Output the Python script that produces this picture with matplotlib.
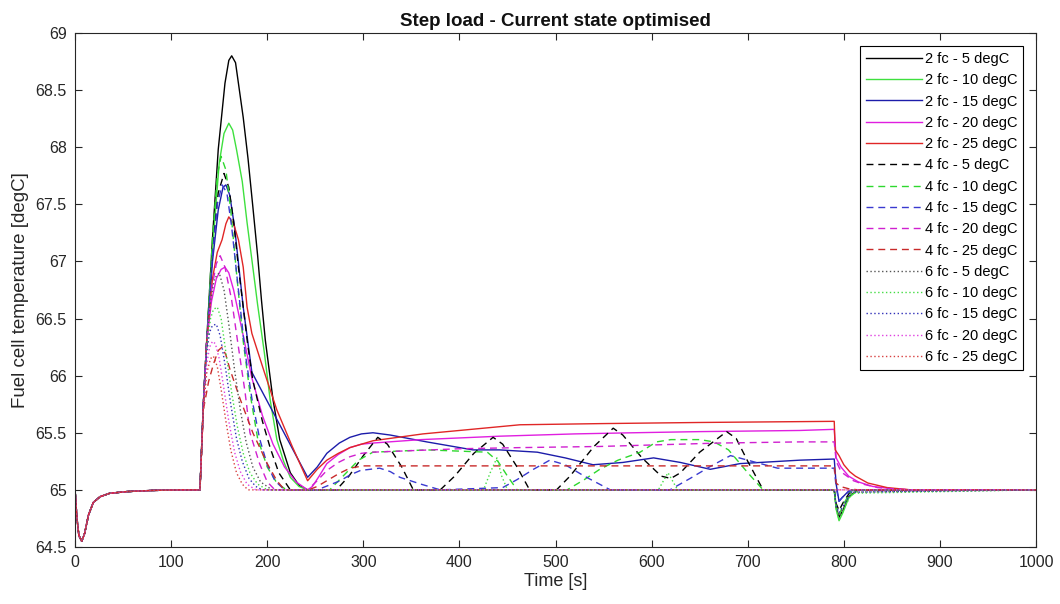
import matplotlib
matplotlib.use("Agg")
import matplotlib.pyplot as plt
from matplotlib.ticker import FuncFormatter

plt.rcParams['font.family'] = ['Liberation Sans', 'DejaVu Sans']

# shared start-up transient (all runs identical before the load step)
start_t = [0, 2, 4, 7, 10, 14, 19, 26, 36, 54, 80, 110]
start_v = [65, 64.75, 64.6, 64.55, 64.62, 64.78, 64.89, 64.94, 64.97, 64.985, 64.995, 65.0]

# 2 fuel cells
t_2fc5 = [130, 133.5, 137, 143, 149, 156, 160, 163, 167, 171, 175, 180, 185, 190, 194, 198, 206, 213, 224, 233, 242,
          790, 792, 795, 799, 805, 815, 1000]
v_2fc5 = [65, 65.75, 66.3, 67.2, 67.98, 68.56, 68.76, 68.8, 68.74, 68.5, 68.26, 67.9, 67.48, 67.05, 66.66, 66.31, 65.79,
          65.44, 65.15, 65.04, 65.0, 65.0, 64.85, 64.76, 64.82, 64.94, 65.0, 65.0]

t_2fc10 = [130, 133.5, 137, 143, 150, 155, 160, 164, 168, 174, 179, 185, 190, 197, 203, 210, 217, 224, 233, 242,
           790, 792, 795, 799, 805, 815, 1000]
v_2fc10 = [65, 65.75, 66.3, 67.1, 67.86, 68.12, 68.21, 68.15, 67.98, 67.7, 67.34, 66.95, 66.62, 66.2, 65.79, 65.44,
           65.25, 65.11, 65.03, 65.0, 65.0, 64.83, 64.73, 64.8, 64.93, 65.0, 65.0]

t_2fc15 = [130, 133.5, 137, 143, 149, 154, 157, 161, 166, 175, 184, 242, 252, 262, 275, 286, 298, 310, 328, 366, 414,
           442, 481, 510, 539, 570, 602, 630, 661, 692, 754, 790, 792, 795, 798, 805, 815, 1000]
v_2fc15 = [65, 65.75, 66.3, 67.0, 67.45, 67.65, 67.67, 67.58, 67.3, 66.6, 66.03, 65.11, 65.2, 65.32, 65.41, 65.46,
           65.49, 65.5, 65.48, 65.42, 65.35, 65.35, 65.33, 65.28, 65.22, 65.24, 65.28, 65.24, 65.18, 65.23, 65.26,
           65.27, 65.05, 64.9, 64.93, 64.99, 65.0, 65.0]

t_2fc20 = [130, 133.5, 137, 142, 147, 152, 156, 160, 165, 175, 184, 195, 206, 218, 230, 242, 247, 254, 262, 274, 286,
           298, 310, 360, 442, 520, 581, 650, 754, 790, 792, 797, 805, 815, 830, 850, 870, 1000]
v_2fc20 = [65, 65.75, 66.3, 66.65, 66.85, 66.93, 66.95, 66.9, 66.75, 66.35, 65.98, 65.65, 65.4, 65.2, 65.07, 65.0,
           65.03, 65.12, 65.23, 65.31, 65.37, 65.4, 65.41, 65.44, 65.47, 65.49, 65.5, 65.51, 65.52, 65.53, 65.28,
           65.2, 65.12, 65.07, 65.03, 65.01, 65.0, 65.0]

t_2fc25 = [130, 133.5, 137, 143, 148, 153, 157, 160, 165, 170, 175, 179, 184, 197, 210, 226, 242, 252, 262, 274, 286,
           298, 310, 362, 463, 546, 650, 790, 791, 795, 800, 806, 812, 825, 845, 870, 1000]
v_2fc25 = [65, 65.75, 66.3, 66.85, 67.08, 67.19, 67.33, 67.39, 67.33, 67.19, 66.95, 66.6, 66.37, 66.03, 65.7, 65.38,
           65.08, 65.18, 65.26, 65.32, 65.37, 65.4, 65.43, 65.49, 65.57, 65.58, 65.59, 65.6, 65.35, 65.3, 65.22,
           65.16, 65.12, 65.06, 65.02, 65.0, 65.0]

# 4 fuel cells
t_4fc5 = [130, 133.5, 137, 143, 149, 155, 160, 165, 170, 175, 180, 185, 195, 203, 212, 224, 272, 285, 300, 315, 325,
          340, 352, 380, 395, 415, 435, 445, 460, 473, 501, 515, 540, 560, 570, 590, 610, 620, 630, 650, 678, 688,
          700, 716, 790, 792, 795, 800, 808, 1000]
v_4fc5 = [65, 65.75, 66.3, 67.1, 67.6, 67.77, 67.65, 67.35, 66.95, 66.6, 66.25, 65.96, 65.6, 65.37, 65.15, 65.0, 65.0,
          65.12, 65.3, 65.46, 65.4, 65.2, 65.0, 65.0, 65.12, 65.32, 65.46, 65.4, 65.2, 65.0, 65.0, 65.12, 65.38,
          65.54, 65.48, 65.28, 65.12, 65.1, 65.15, 65.33, 65.51, 65.45, 65.25, 65.0, 65.0, 64.88, 64.82, 64.9,
          65.0, 65.0]

t_4fc10 = [130, 133.5, 137, 143, 148, 152, 157, 162, 168, 175, 182, 190, 200, 210, 220, 265, 280, 295, 310, 366, 429,
           440, 450, 460, 512, 530, 546, 565, 588, 605, 620, 650, 665, 680, 700, 716, 790, 792, 795, 800, 808, 1000]
v_4fc10 = [65, 65.75, 66.3, 67.2, 67.75, 67.92, 67.8, 67.45, 66.9, 66.3, 65.85, 65.45, 65.2, 65.06, 65.0, 65.0, 65.13,
           65.26, 65.33, 65.35, 65.33, 65.25, 65.12, 65.0, 65.0, 65.09, 65.18, 65.26, 65.33, 65.42, 65.44, 65.44,
           65.42, 65.35, 65.15, 65.0, 65.0, 64.85, 64.78, 64.88, 65.0, 65.0]

t_4fc15 = [130, 133.5, 137, 143, 148, 153, 158, 163, 170, 177, 184, 192, 200, 208, 218, 252, 264, 276, 286, 297, 317,
           328, 338, 360, 380, 445, 460, 477, 494, 510, 530, 557, 619, 640, 660, 682, 700, 731, 790, 792, 795, 800,
           808, 1000]
v_4fc15 = [65, 65.75, 66.3, 67.05, 67.5, 67.67, 67.6, 67.3, 66.75, 66.2, 65.8, 65.45, 65.22, 65.08, 65.0, 65.0, 65.04,
           65.08, 65.13, 65.17, 65.19, 65.16, 65.11, 65.05, 65.0, 65.02, 65.09, 65.18, 65.26, 65.22, 65.12, 65.0,
           65.0, 65.1, 65.2, 65.3, 65.26, 65.19, 65.19, 65.02, 64.9, 64.95, 65.0, 65.0]

t_4fc20 = [130, 133.5, 137, 142, 147, 151, 156, 163, 170, 177, 182, 192, 200, 208, 242, 252, 262, 274, 286, 298, 310,
           400, 463, 546, 671, 754, 790, 792, 796, 800, 810, 820, 835, 850, 870, 1000]
v_4fc20 = [65, 65.75, 66.3, 66.75, 66.98, 67.05, 66.95, 66.66, 66.25, 65.85, 65.5, 65.23, 65.07, 65.0, 65.0, 65.08,
           65.17, 65.24, 65.29, 65.32, 65.33, 65.36, 65.37, 65.38, 65.41, 65.42, 65.42, 65.25, 65.18, 65.14, 65.08,
           65.05, 65.02, 65.01, 65.0, 65.0]

t_4fc25 = [130, 133.5, 139, 144, 149, 153, 157, 161, 172, 185, 200, 210, 218, 243, 252, 262, 274, 286, 300, 790, 792,
           796, 805, 815, 1000]
v_4fc25 = [65, 65.7, 65.95, 66.1, 66.22, 66.25, 66.18, 66.06, 65.79, 65.5, 65.23, 65.08, 65.0, 65.0, 65.03, 65.08,
           65.14, 65.19, 65.21, 65.21, 65.06, 65.03, 65.01, 65.0, 65.0]

# 6 fuel cells
t_6fc5 = [130, 133.5, 137, 141, 145, 150, 155, 160, 166, 172, 178, 185, 193, 205, 790, 792, 795, 800, 808, 1000]
v_6fc5 = [65, 65.75, 66.3, 66.65, 66.85, 66.9, 66.75, 66.45, 66.05, 65.7, 65.42, 65.2, 65.07, 65.0, 65.0, 64.85,
          64.77, 64.85, 64.98, 65.0]

t_6fc10 = [130, 133.5, 137, 141, 144, 148, 152, 157, 163, 169, 175, 182, 190, 200, 425, 432, 439, 444, 450, 607, 617,
           627, 790, 792, 795, 800, 808, 1000]
v_6fc10 = [65, 65.75, 66.25, 66.5, 66.58, 66.6, 66.5, 66.2, 65.85, 65.55, 65.32, 65.15, 65.05, 65.0, 65.0, 65.15,
           65.28, 65.12, 65.0, 65.0, 65.15, 65.0, 65.0, 64.84, 64.74, 64.83, 64.97, 65.0]

t_6fc15 = [130, 133.5, 137, 140, 143, 147, 151, 156, 162, 168, 174, 181, 188, 195, 790, 792, 795, 800, 808, 1000]
v_6fc15 = [65, 65.75, 66.2, 66.38, 66.44, 66.45, 66.35, 66.1, 65.75, 65.45, 65.25, 65.1, 65.03, 65.0, 65.0, 64.86,
           64.8, 64.87, 64.98, 65.0]

t_6fc20 = [130, 133.5, 137, 140, 143, 146, 150, 155, 160, 166, 172, 179, 188, 1000]
v_6fc20 = [65, 65.7, 66.1, 66.25, 66.3, 66.28, 66.15, 65.88, 65.6, 65.33, 65.16, 65.05, 65.0, 65.0]

t_6fc25 = [130, 133.5, 137, 141, 144, 148, 152, 157, 162, 168, 174, 180, 1000]
v_6fc25 = [65, 65.7, 66.02, 66.15, 66.17, 66.08, 65.88, 65.6, 65.35, 65.15, 65.05, 65.0, 65.0]

series = [
    ("2 fc - 5 degC", t_2fc5, v_2fc5, "#000000", "-"),
    ("2 fc - 10 degC", t_2fc10, v_2fc10, "#3ee03e", "-"),
    ("2 fc - 15 degC", t_2fc15, v_2fc15, "#1c1caa", "-"),
    ("2 fc - 20 degC", t_2fc20, v_2fc20, "#e01ee0", "-"),
    ("2 fc - 25 degC", t_2fc25, v_2fc25, "#e02626", "-"),
    ("4 fc - 5 degC", t_4fc5, v_4fc5, "#000000", "--"),
    ("4 fc - 10 degC", t_4fc10, v_4fc10, "#2ed82e", "--"),
    ("4 fc - 15 degC", t_4fc15, v_4fc15, "#3a3ad0", "--"),
    ("4 fc - 20 degC", t_4fc20, v_4fc20, "#d020d0", "--"),
    ("4 fc - 25 degC", t_4fc25, v_4fc25, "#c82a2a", "--"),
    ("6 fc - 5 degC", t_6fc5, v_6fc5, "#555555", ":"),
    ("6 fc - 10 degC", t_6fc10, v_6fc10, "#44dd44", ":"),
    ("6 fc - 15 degC", t_6fc15, v_6fc15, "#3030b8", ":"),
    ("6 fc - 20 degC", t_6fc20, v_6fc20, "#e040e0", ":"),
    ("6 fc - 25 degC", t_6fc25, v_6fc25, "#d84040", ":"),
]

dash_styles = {"-": "-", "--": (0, (5, 3.5)), ":": (0, (1, 1.8))}

fig = plt.figure(figsize=(10.6, 6.04), dpi=100)
ax = fig.add_axes([0.0708, 0.0944, 0.9066, 0.851])

for label, t, v, col, ls in series:
    ax.plot(start_t + t, start_v + v, color=col, linestyle=dash_styles[ls], linewidth=1.0, label=label)

ax.set_xlim(0, 1000)
ax.set_ylim(64.5, 69)
ax.set_xticks(range(0, 1001, 100))
ax.set_yticks([64.5 + 0.5 * i for i in range(10)])
ax.yaxis.set_major_formatter(FuncFormatter(lambda y, p: "%g" % y))

axis_col = "#262626"
for sp in ax.spines.values():
    sp.set_color(axis_col)
    sp.set_linewidth(0.8)
ax.tick_params(direction="in", length=5, width=0.8, top=True, right=True,
               colors=axis_col, labelsize=11.5, pad=6)

ax.set_title("Step load - Current state optimised", fontweight="bold", fontsize=13.5, color="#111111", pad=5)
ax.set_xlabel("Time [s]", fontsize=13, color=axis_col, labelpad=2)
ax.set_ylabel("Fuel cell temperature [degC]", fontsize=13.5, color=axis_col, labelpad=5)

leg = ax.legend(loc="upper right", fontsize=10.5, handlelength=3.8, handletextpad=0.2,
                labelspacing=0.5, borderaxespad=0.9, borderpad=0.4, fancybox=False, framealpha=1)
leg.get_frame().set_edgecolor("#000000")
leg.get_frame().set_linewidth(0.8)

fig.savefig("out.png", dpi=100)
